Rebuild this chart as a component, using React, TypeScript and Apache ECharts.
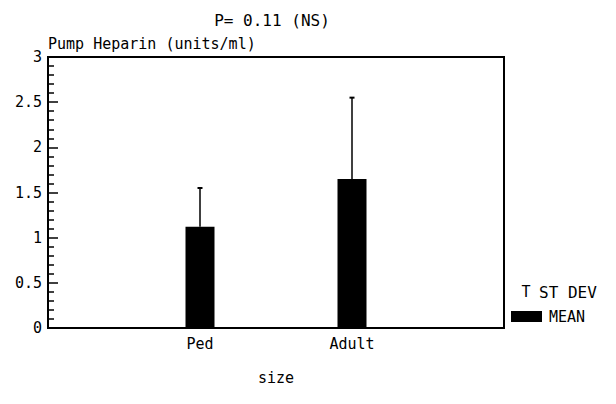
import React, { useEffect, useRef } from "react";
import * as echarts from "echarts";

const categories = ["Ped", "Adult"];
const means = [1.12, 1.65];
const sdUpper = [1.55, 2.55];
const yTicks = [0, 0.5, 1, 1.5, 2, 2.5, 3];
const titleText = "P= 0.11 (NS)";
const yName = "Pump Heparin (units/ml)";
const xName = "size";
const legendItems = ["ST DEV", "MEAN"];

const FONT = "'DejaVu Sans Mono', monospace";

export default function App() {
  const ref = useRef<HTMLDivElement>(null);
  useEffect(() => {
    if (!ref.current) return;
    const chart = echarts.init(ref.current, undefined, { renderer: "svg" });
    const xData = ["", ...categories, ""];
    const barData = [null, ...means, null];
    const errData = categories.map((_, i) => [i + 1, means[i], sdUpper[i]]);
    chart.setOption({
      animation: false,
      backgroundColor: "#ffffff",
      grid: {
        left: 48,
        right: 112,
        top: 57,
        bottom: 76,
        show: true,
        borderColor: "#000",
        borderWidth: 2,
        backgroundColor: "transparent",
      },
      xAxis: {
        type: "category",
        data: xData,
        boundaryGap: false,
        axisLine: { lineStyle: { color: "#000", width: 2 } },
        axisTick: { show: false },
        axisLabel: {
          color: "#000",
          fontFamily: FONT,
          fontSize: 15,
          margin: 8,
          interval: 0,
        },
        splitLine: { show: false },
      },
      yAxis: {
        type: "value",
        min: yTicks[0],
        max: yTicks[yTicks.length - 1],
        interval: 0.5,
        axisLine: { show: true, lineStyle: { color: "#000", width: 2 } },
        axisTick: { show: true, inside: true, length: 10, lineStyle: { color: "#000", width: 1.5 } },
        minorTick: { show: true, splitNumber: 5, length: 6, lineStyle: { color: "#000", width: 1.5 } },
        axisLabel: {
          color: "#000",
          fontFamily: FONT,
          fontSize: 15,
          margin: 6,
        },
        splitLine: { show: false },
      },
      graphic: [
        {
          type: "text",
          x: 272,
          y: 20,
          style: {
            text: titleText,
            fontFamily: FONT,
            fontSize: 16,
            fill: "#000",
            align: "center",
            verticalAlign: "middle",
          },
        },
        {
          type: "text",
          x: 48,
          y: 44,
          style: {
            text: yName,
            fontFamily: FONT,
            fontSize: 15,
            fill: "#000",
            align: "left",
            verticalAlign: "middle",
          },
        },
        {
          type: "text",
          x: 276,
          y: 378,
          style: {
            text: xName,
            fontFamily: FONT,
            fontSize: 15,
            fill: "#000",
            align: "center",
            verticalAlign: "middle",
          },
        },
        {
          type: "text",
          x: 526,
          y: 292,
          style: {
            text: "T",
            fontFamily: FONT,
            fontSize: 15,
            fill: "#000",
            align: "center",
            verticalAlign: "middle",
          },
        },
        {
          type: "text",
          x: 539,
          y: 292,
          style: {
            text: legendItems[0],
            fontFamily: FONT,
            fontSize: 16,
            fill: "#000",
            align: "left",
            verticalAlign: "middle",
          },
        },
        {
          type: "rect",
          shape: { x: 511, y: 311, width: 31, height: 11 },
          style: { fill: "#000" },
        },
        {
          type: "text",
          x: 549,
          y: 317,
          style: {
            text: legendItems[1],
            fontFamily: FONT,
            fontSize: 15,
            fill: "#000",
            align: "left",
            verticalAlign: "middle",
          },
        },
      ],
      series: [
        {
          type: "bar",
          data: barData,
          barWidth: 29,
          itemStyle: { color: "#000" },
          z: 2,
        },
        {
          type: "custom",
          data: errData,
          z: 3,
          renderItem: (params: any, api: any) => {
            const x = api.value(0);
            const low = api.coord([x, api.value(1)]);
            const high = api.coord([x, api.value(2)]);
            return {
              type: "group",
              children: [
                {
                  type: "line",
                  shape: { x1: low[0], y1: low[1], x2: high[0], y2: high[1] },
                  style: { stroke: "#000", lineWidth: 1.5 },
                },
                {
                  type: "line",
                  shape: { x1: high[0] - 2.5, y1: high[1], x2: high[0] + 2.5, y2: high[1] },
                  style: { stroke: "#000", lineWidth: 2 },
                },
              ],
            };
          },
        },
      ],
    });
    return () => chart.dispose();
  }, []);
  return (
    <div
      ref={ref}
      style={{ position: "fixed", left: 0, top: 0, width: 616, height: 404, background: "#fff" }}
    />
  );
}
